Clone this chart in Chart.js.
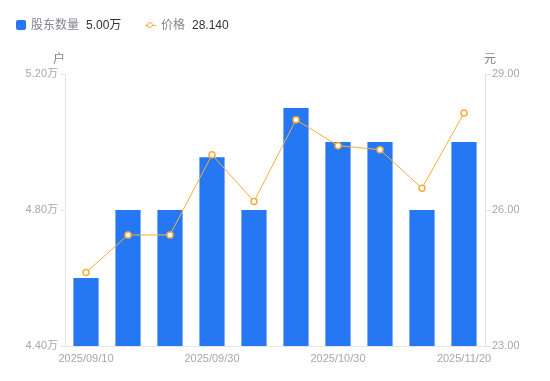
<!DOCTYPE html>
<html>
<head>
<meta charset="utf-8">
<script src="https://cdn.jsdelivr.net/npm/chart.js@4"></script>
<style>
  html, body { margin: 0; padding: 0; background: #fff; }
  #wrap { position: relative; width: 550px; height: 381px; font-family: 'Liberation Sans', 'Noto Sans CJK SC', sans-serif; }
  #chart { position: absolute; left: 0; top: 0; }
  .lg { position: absolute; top: 18px; font-size: 12px; line-height: 14px; white-space: nowrap; }
  .lg .nm { color: #80858f; }
  .lg .vl { color: #333; margin-left: 7px; }
  .sq { display: inline-block; width: 10px; height: 10px; background: #2677f4; border-radius: 2px; vertical-align: -1px; margin-right: 5px; }
  .ln { display: inline-block; position: relative; width: 11px; height: 10px; margin-right: 5px; vertical-align: -1px; }
  .ln:before { content: ''; position: absolute; left: 0; right: 0; top: 5px; height: 1px; background: #f9ad3a; }
  .ln:after { content: ''; position: absolute; left: 2px; top: 2px; width: 4px; height: 4px; border: 1.5px solid #f9ad3a; border-radius: 50%; background: #fff; }
  .unit { position: absolute; top: 49px; font-size: 12px; color: #80858f; }
</style>
</head>
<body>
<div id="wrap">
  <canvas id="chart" width="550" height="381"></canvas>
  <div class="lg" style="left:16px"><span class="sq"></span><span class="nm">股东数量</span><span class="vl">5.00万</span></div>
  <div class="lg" style="left:145px"><span class="ln"></span><span class="nm">价格</span><span class="vl">28.140</span></div>
  <div class="unit" style="left:53px">户</div>
  <div class="unit" style="left:484px">元</div>
</div>
<script>
'use strict';

// data
const dates   = ['2025/09/10','2025/09/15','2025/09/19','2025/09/30','2025/10/10',
                 '2025/10/20','2025/10/30','2025/11/10','2025/11/14','2025/11/20'];
const holders = [4.60, 4.80, 4.80, 4.955, 4.80, 5.10, 5.00, 5.00, 4.80, 5.00];   // 万户
const prices  = [24.62, 25.45, 25.45, 27.22, 26.19, 27.99, 27.42, 27.33, 26.48, 28.14];
const shownDates = [0, 3, 6, 9];
const holderTicks = [4.40, 4.80, 5.20];
const priceTicks  = [23, 26, 29];

const BLUE = '#2677f4', ORANGE = '#f9ad3a', AXIS = '#e3e4e8', TXT = '#a3a7b2';
const tickFont = { family: "'Liberation Sans', 'Noto Sans CJK SC', sans-serif", size: 11 };

new Chart(document.getElementById('chart').getContext('2d'), {
  data: {
    labels: dates,
    datasets: [
      { type: 'line', label: '价格', data: prices, yAxisID: 'yR',
        borderColor: ORANGE, borderWidth: 1, tension: 0,
        pointRadius: 3, pointBorderWidth: 1.5, pointBackgroundColor: '#fff',
        pointBorderColor: ORANGE, order: 0 },
      { type: 'bar', label: '股东数量', data: holders, yAxisID: 'yL',
        backgroundColor: BLUE, borderWidth: 0,
        categoryPercentage: 1, barPercentage: 0.6, order: 1 }
    ]
  },
  options: {
    responsive: false,
    animation: false,
    layout: { padding: { top: 74, left: 0, right: 0, bottom: 0 } },
    plugins: { legend: { display: false }, tooltip: { enabled: false } },
    scales: {
      x: {
        grid: { display: false, drawTicks: false },
        border: { display: true, color: AXIS },
        afterFit: s => { s.height = 35; },
        ticks: {
          autoSkip: false, maxRotation: 0, color: TXT, font: tickFont, padding: 6,
          callback: (v, i) => shownDates.includes(i) ? dates[i] : ''
        }
      },
      yL: {
        position: 'left', min: 4.40, max: 5.20,
        afterFit: s => { s.width = 65; },
        afterBuildTicks: s => { s.ticks = holderTicks.map(v => ({ value: v })); },
        grid: { drawOnChartArea: false, drawTicks: true, tickLength: 5, color: AXIS },
        border: { display: true, color: AXIS },
        ticks: { color: TXT, font: tickFont, padding: 2,
                 callback: v => v.toFixed(2) + '万' }
      },
      yR: {
        position: 'right', min: 23, max: 29,
        afterFit: s => { s.width = 65; },
        afterBuildTicks: s => { s.ticks = priceTicks.map(v => ({ value: v })); },
        grid: { drawOnChartArea: false, drawTicks: true, tickLength: 5, color: AXIS },
        border: { display: true, color: AXIS },
        ticks: { color: TXT, font: tickFont, padding: 2,
                 callback: v => v.toFixed(2) }
      }
    }
  }
});
</script>
</body>
</html>
